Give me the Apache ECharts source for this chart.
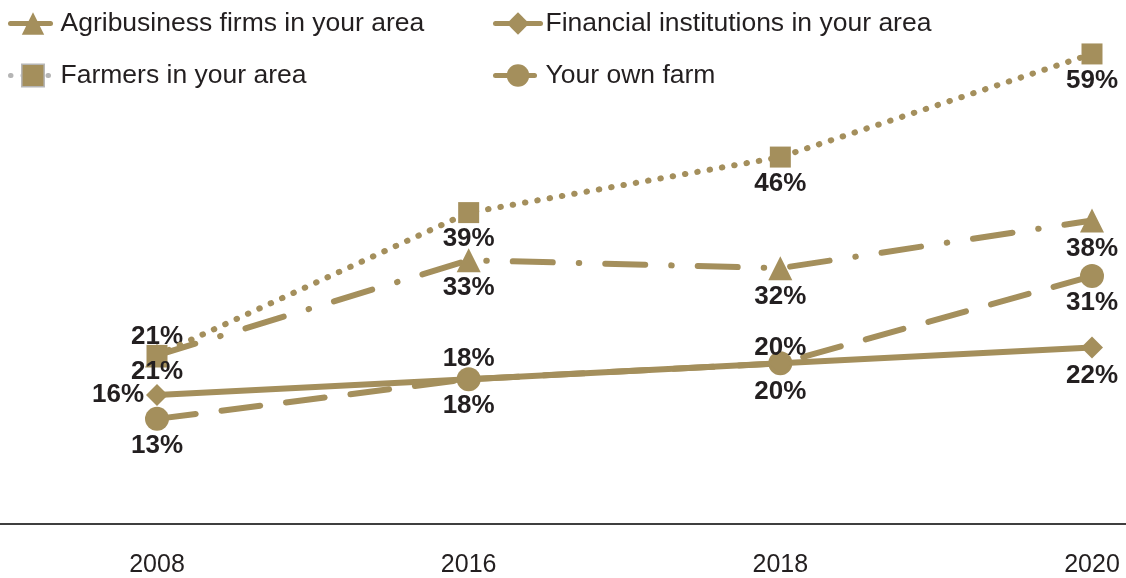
<!DOCTYPE html>
<html>
<head>
<meta charset="utf-8">
<script src="https://cdn.jsdelivr.net/npm/echarts@6/dist/echarts.min.js"></script>
<style>
  html, body { margin: 0; padding: 0; background: #ffffff; }
  #chart { width: 1126px; height: 578px; }
</style>
</head>
<body>
<div id="chart"></div>
<script>
// Survey years on the horizontal axis
const years = ['2008', '2016', '2018', '2020'];

// Share of respondents (%) per group
const agribusiness = [21, 33, 32, 38];
const financial = [16, 18, 20, 22];
const farmers = [21, 39, 46, 59];
const ownFarm = [13, 18, 20, 31];

const GOLD = '#A48F5C';
const INK = '#231F20';
const FONT = '"Liberation Sans", Arial, sans-serif';

// Where each point's value label sits relative to its marker
const placement = {
  agribusiness: [['top', -6], ['bottom', 3], ['bottom', 4], ['bottom', 3]],
  financial: [['left', 2], ['top', -4], ['bottom', 4], ['bottom', 4]],
  farmers: [['bottom', -7], ['bottom', 3], ['bottom', 3], ['bottom', 3]],
  ownFarm: [['bottom', 2], ['bottom', 2], ['top', -9], ['bottom', 2]]
};

function points(values, places) {
  return values.map((v, i) => ({
    value: v,
    label: { position: places[i][0], distance: places[i][1] }
  }));
}

function lineSeries(name, values, places, symbol, size, dash, z) {
  return {
    name: name,
    type: 'line',
    xAxisIndex: 0,
    yAxisIndex: 0,
    data: points(values, places),
    symbol: symbol,
    symbolSize: size,
    z: z,
    itemStyle: { color: GOLD, opacity: 1 },
    lineStyle: { color: GOLD, width: 6, type: dash, cap: 'round' },
    label: {
      show: true,
      formatter: '{c}%',
      color: INK,
      fontFamily: FONT,
      fontWeight: 'bold',
      fontSize: 26
    },
    emphasis: { disabled: true },
    animation: false
  };
}

const chart = echarts.init(document.getElementById('chart'));

const legendText = { color: INK, fontFamily: FONT, fontSize: 26.5 };

const legendBase = {
  orient: 'vertical',
  top: 10,
  padding: 0,
  itemWidth: 45,
  itemHeight: 28,
  itemGap: 25,
  lineStyle: { width: 5 },
  textStyle: legendText
};

chart.setOption({
  backgroundColor: '#ffffff',
  animation: false,
  legend: [
    Object.assign({}, legendBase, {
      left: 8,
      data: [
        'Agribusiness firms in your area',
        {
          name: 'Farmers in your area',
          lineStyle: { color: '#b5b5b5' },
          itemStyle: { borderColor: '#b5b5b5', borderWidth: 1.5 }
        }
      ]
    }),
    Object.assign({}, legendBase, {
      left: 493,
      data: ['Financial institutions in your area', 'Your own farm']
    })
  ],
  grid: [
    { left: 157, right: 34, top: 0, bottom: 54.5, containLabel: false },
    { left: 0, right: 0, top: 0, bottom: 54.5, containLabel: false }
  ],
  xAxis: [
    {
      type: 'category',
      gridIndex: 0,
      data: years,
      boundaryGap: false,
      axisLine: { show: false },
      axisTick: { show: false },
      axisLabel: {
        margin: 31,
        color: INK,
        fontFamily: FONT,
        fontSize: 25
      }
    },
    {
      type: 'value',
      gridIndex: 1,
      min: 0,
      max: 1,
      axisLine: { show: true, lineStyle: { color: '#3f3f3f', width: 2 } },
      axisTick: { show: false },
      axisLabel: { show: false },
      splitLine: { show: false }
    }
  ],
  yAxis: [
    {
      type: 'value',
      gridIndex: 0,
      min: 0,
      max: 65.8,
      show: false,
      splitLine: { show: false }
    },
    {
      type: 'value',
      gridIndex: 1,
      min: 0,
      max: 1,
      show: false,
      splitLine: { show: false }
    }
  ],
  series: [
    lineSeries('Agribusiness firms in your area', agribusiness, placement.agribusiness,
      'triangle', 24, [40, 26, 0.5, 26], 3),
    lineSeries('Your own farm', ownFarm, placement.ownFarm,
      'circle', 24, [39, 26], 4),
    lineSeries('Financial institutions in your area', financial, placement.financial,
      'diamond', 22, 'solid', 5),
    lineSeries('Farmers in your area', farmers, placement.farmers,
      'rect', 21, [0.5, 12], 6)
  ]
});
</script>
</body>
</html>
